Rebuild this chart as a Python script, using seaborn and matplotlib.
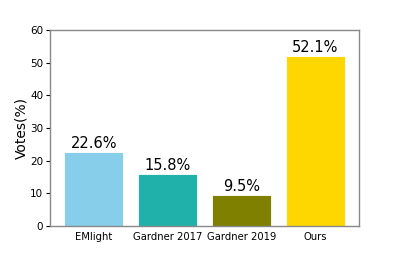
import matplotlib
matplotlib.use("Agg")
import matplotlib.pyplot as plt
import pandas as pd
import seaborn as sns

methods = ["EMlight", "Gardner 2017", "Gardner 2019", "Ours"]
votes = [22.6, 15.8, 9.5, 52.1]
colors = ["#87CEEB", "#20B2AA", "#808000", "#FFD700"]

df = pd.DataFrame({"method": methods, "votes": votes})

sns.set_style("white")
plt.rcParams["font.family"] = ["DejaVu Sans"]
plt.rcParams["text.color"] = "black"
plt.rcParams["axes.labelcolor"] = "black"
plt.rcParams["xtick.color"] = "black"
plt.rcParams["ytick.color"] = "black"

fig = plt.figure(figsize=(3.99, 2.54), dpi=100)
ax = fig.add_axes([49.5 / 399, 1 - 226 / 254, (359 - 49.5) / 399, (226 - 30) / 254])

sns.barplot(data=df, x="method", y="votes", hue="method", palette=colors,
            width=0.8, saturation=1, legend=False, ax=ax,
            edgecolor="white", linewidth=0.6)

for i, v in enumerate(votes):
    ax.text(i, v + 0.3, f"{v}%", ha="center", va="bottom", fontsize=10.5)

ax.set_xlim(-0.6, 3.59)
ax.set_ylim(0, 60)
ax.set_yticks(range(0, 61, 10))
ax.set_xlabel("")
ax.set_ylabel("Votes(%)", fontsize=10, labelpad=1)
ax.tick_params(axis="y", labelsize=7.5, length=3, width=0.8, left=True, pad=1.5)
ax.tick_params(axis="x", labelsize=7.2, length=0, pad=4)
for s in ax.spines.values():
    s.set_color("#888888")
    s.set_linewidth(1)

fig.savefig("out.png", dpi=100)
